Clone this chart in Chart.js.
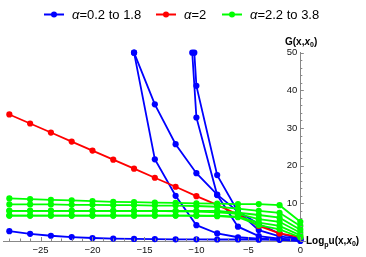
<!DOCTYPE html>
<html><head><meta charset="utf-8">
<script src="https://cdn.jsdelivr.net/npm/chart.js@4/dist/chart.umd.min.js"></script>
<style>html,body{margin:0;padding:0;background:#fff}#wrap{width:366px;height:257px}</style>
</head><body><div id="wrap"><canvas id="c" width="366" height="257"></canvas></div>
<script>
// ---- data ----
const xEven = [-28,-26,-24,-22,-20,-18,-16,-14,-12,-10,-8,-6,-4,-2,0];
const legendLabels = ['=0.2 to 1.8', '=2', '=2.2 to 3.8'];
const xTickValues = [-25,-20,-15,-10,-5,0];
const yTickValues = [10,20,30,40,50];

// blue family (alpha 0.2 .. 1.8)
const blueLowX = xEven;
const blueLowY = [2.6,1.9,1.4,1.05,0.8,0.65,0.55,0.5,0.45,0.45,0.4,0.4,0.35,0.3,0.0];
const blueAX = [-16,-14,-12,-10,-8,-6,-4,-2,0];
const blueAY = [50,36.3,25.7,18.0,12.3,7.8,4.5,2.0,0.5];
const blueBX = [-16,-14,-12,-10,-8,-6,-4,-2,0];
const blueBY = [50,21.7,12.0,4.2,2.0,1.0,0.6,0.4,0.2];
const blueCX = [-10.4,-10,-8,-6,-4,-2,0];
const blueCY = [50,32.8,12.2,3.8,1.3,0.6,0.3];
const blueDX = [-10.2,-10,-8,-6,-4,-2,0];
const blueDY = [50,41.2,17.5,7.8,2.9,1.2,0.5];

// red (alpha = 2)
const redY = [33.6,31.2,28.8,26.4,24.0,21.6,19.2,16.8,14.4,11.9,9.6,7.0,4.0,2.0,1.0];

// green family (alpha 2.2 .. 3.8)
const green1 = [11.3,11.1,10.9,10.8,10.6,10.4,10.3,10.2,10.1,10.0,9.9,9.8,9.8,9.5,5.1];
const green2 = [9.7,9.7,9.7,9.6,9.6,9.5,9.5,9.4,9.4,9.3,9.1,8.6,8.0,7.5,4.0];
const green3 = [8.0,8.0,8.0,8.0,8.0,8.0,8.0,8.0,8.0,8.0,8.0,7.5,6.9,6.2,3.0];
const green4 = [8.0,8.0,8.0,8.0,8.0,8.0,8.0,8.0,7.9,7.8,7.6,7.2,5.8,5.1,2.2];
const green5 = [6.75,6.75,6.75,6.75,6.75,6.75,6.75,6.75,6.75,6.75,6.7,6.5,4.9,4.0,1.5];
const green6 = [6.75,6.75,6.75,6.75,6.75,6.75,6.75,6.75,6.75,6.7,6.6,6.3,4.2,3.1,1.0];

const BLUE = 'rgb(0,0,255)', RED = 'rgb(255,0,0)', GREEN = 'rgb(0,255,0)';

function pts(xs, ys){ return xs.map((x,i)=>({x:x, y:ys[i]})); }
function ds(xs, ys, color){
  return {data: pts(xs, ys), borderColor: color, backgroundColor: color,
          borderWidth: 1.8, pointRadius: 3.1, pointHoverRadius: 3.1,
          pointBorderWidth: 0, tension: 0, clip: false};
}

const datasets = [
  ds(xEven, green1, GREEN), ds(xEven, green2, GREEN), ds(xEven, green3, GREEN),
  ds(xEven, green4, GREEN), ds(xEven, green5, GREEN), ds(xEven, green6, GREEN),
  ds(xEven, redY, RED),
  ds(blueLowX, blueLowY, BLUE), ds(blueAX, blueAY, BLUE), ds(blueBX, blueBY, BLUE),
  ds(blueCX, blueCY, BLUE), ds(blueDX, blueDY, BLUE)
];

const AXIS = '#888';
const FONT = '"Liberation Sans", Arial, sans-serif';
const decor = {
  id: 'decor',
  afterDraw(chart){
    const ctx = chart.ctx, xs = chart.scales.x, ys = chart.scales.y;
    const x0 = xs.getPixelForValue(0), y0 = ys.getPixelForValue(0);
    ctx.save();
    ctx.strokeStyle = AXIS; ctx.lineWidth = 1;
    // x ticks (pointing up)
    for (let v = -28; v <= 0; v++) {
      const px = Math.round(xs.getPixelForValue(v)) + 0.5;
      const len = (v % 5 === 0) ? 4 : 2.5;
      ctx.beginPath(); ctx.moveTo(px, y0); ctx.lineTo(px, y0 - len); ctx.stroke();
    }
    // y ticks (pointing right)
    for (let v = 0; v <= 50; v += 2) {
      const py = Math.round(ys.getPixelForValue(v)) + 0.5;
      const len = (v % 10 === 0) ? 3.5 : 2;
      ctx.beginPath(); ctx.moveTo(x0, py); ctx.lineTo(x0 + len, py); ctx.stroke();
    }
    // y tick labels (left of the axis line)
    ctx.fillStyle = '#111'; ctx.font = '9.5px ' + FONT;
    ctx.textAlign = 'right'; ctx.textBaseline = 'middle';
    yTickValues.forEach(v => ctx.fillText(String(v), x0 - 3, ys.getPixelForValue(v)));
    ctx.textAlign = 'left';
    // axis titles
    ctx.fillStyle = '#000'; ctx.textBaseline = 'alphabetic';
    function runs(parts, x, y){
      for (const p of parts) {
        ctx.font = p.f; const yy = y + (p.dy || 0);
        ctx.fillText(p.t, x, yy); x += ctx.measureText(p.t).width;
      }
    }
    const B = 'bold 10px ' + FONT;
    const BI = 'bold italic 10px ' + FONT;
    const BS = 'bold 7px ' + FONT;
    runs([{t:'G(x,',f:B},{t:'x',f:BI},{t:'0',f:BS,dy:2},{t:')',f:B}], 285, 44.5);
    runs([{t:'Log',f:B},{t:'p',f:BS,dy:2.5},{t:'u(x,',f:B},{t:'x',f:BI},{t:'0',f:BS,dy:2},{t:')',f:B}], 306, 244);
    // legend
    const items = [{c:BLUE,x:44},{c:RED,x:156},{c:GREEN,x:222}];
    const ly = 14.5;
    items.forEach((it,i)=>{
      ctx.strokeStyle = it.c; ctx.fillStyle = it.c; ctx.lineWidth = 2;
      ctx.beginPath(); ctx.moveTo(it.x, ly); ctx.lineTo(it.x+20, ly); ctx.stroke();
      ctx.beginPath(); ctx.arc(it.x+10, ly, 3, 0, Math.PI*2); ctx.fill();
      ctx.fillStyle = '#000';
      runs([{t:'α',f:'italic 13px ' + FONT},
            {t:legendLabels[i],f:'13px ' + FONT}], it.x+28, ly+4.5);
    });
    ctx.restore();
  }
};

new Chart(document.getElementById('c'), {
  type: 'line',
  data: {datasets},
  options: {
    responsive: false, animation: false, devicePixelRatio: 1,
    layout: {padding: {left: 0, right: 61, top: 52.7, bottom: 16}},
    plugins: {legend: {display: false}, tooltip: {enabled: false}},
    scales: {
      x: {type: 'linear', min: -28.6, max: 0.45, position: {y: 0},
          grid: {display: false, drawTicks: true, tickLength: 3},
          border: {display: true, color: AXIS, width: 1},
          afterBuildTicks: s => { s.ticks = xTickValues.map(v => ({value: v})); },
          ticks: {color: '#111', font: {size: 9.5, family: FONT},
                  padding: 1, maxRotation: 0, autoSkip: false,
                  callback: v => (v < 0 ? '\u2212' + Math.abs(v) : String(v))}},
      y: {type: 'linear', min: 0, max: 50, position: {x: 0},
          grid: {display: false, drawTicks: false},
          border: {display: true, color: AXIS, width: 1},
          afterBuildTicks: s => { s.ticks = yTickValues.map(v => ({value: v})); },
          ticks: {display: false}}
    }
  },
  plugins: [decor]
});
</script></body></html>
